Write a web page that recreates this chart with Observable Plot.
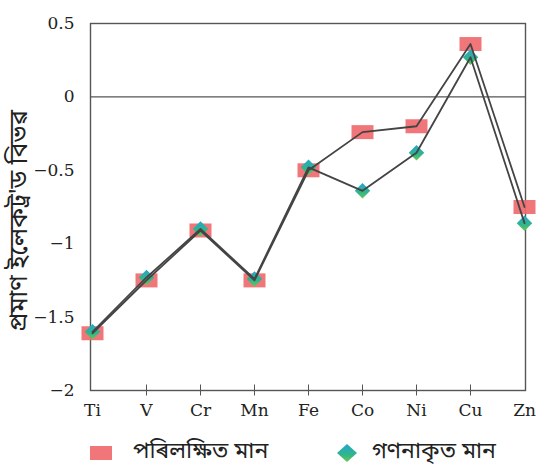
<!DOCTYPE html>
<html>
<head>
<meta charset="utf-8">
<script src="https://cdn.jsdelivr.net/npm/d3@7"></script>
<script src="https://cdn.jsdelivr.net/npm/@observablehq/plot@0.6"></script>
<style>
  body { margin: 0; background: #fff; }
  #chart { width: 543px; }
</style>
</head>
<body>
<div id="chart"></div>
<script>
const elements = ["Ti", "V", "Cr", "Mn", "Fe", "Co", "Ni", "Cu", "Zn"];
const observed = [-1.61, -1.25, -0.91, -1.25, -0.50, -0.24, -0.20, 0.36, -0.75];
const calculated = [-1.60, -1.23, -0.90, -1.24, -0.48, -0.64, -0.38, 0.27, -0.86];
const yTicks = [0.5, 0, -0.5, -1, -1.5, -2];
const yLabel = "প্ৰমাণ ইলেকট্ৰ'ড বিভৱ";
const seriesNames = ["পৰিলক্ষিত মান", "গণনাকৃত মান"];

const obsData = elements.map((e, i) => ({el: e, v: observed[i]}));
const calcData = elements.map((e, i) => ({el: e, v: calculated[i]}));

const rectSymbol = { draw(ctx) { ctx.rect(-11, -7, 22, 14); } };
const bengali = "'Noto Sans Bengali', 'Noto Serif Bengali', 'Lohit Bengali', 'Noto Sans', sans-serif";

const svg = Plot.plot({
  width: 543, height: 425,
  marginLeft: 90, marginRight: 18, marginTop: 23, marginBottom: 35,
  x: {type: "point", domain: elements, padding: 0},
  y: {domain: [-2, 0.5]},
  style: {fontFamily: "'DejaVu Serif', serif", fontSize: "17px", color: "#222", background: "#fff"},
  marks: [
    Plot.frame({stroke: "#555", strokeWidth: 1.4}),
    Plot.ruleY([0], {stroke: "#555", strokeWidth: 1.4}),
    Plot.axisY({ticks: yTicks, tickSize: 0, tickPadding: 16, label: null, tickFormat: d3.format("~g")}),
    Plot.axisX({ticks: elements.slice(1, -1), tickSize: 11, dy: -5.5, tickFormat: () => "", label: null, stroke: "#555"}),
    Plot.axisX({tickSize: 0, tickPadding: 13, label: null}),
    Plot.dot(obsData, {x: "el", y: "v", symbol: rectSymbol, r: 5, fill: "#ef6a6e", fillOpacity: 0.92, stroke: "none"}),
    Plot.dot(calcData, {x: "el", y: "v", symbol: "diamond2", r: 7, fill: "url(#diamGrad)", stroke: "none"}),
    Plot.line(obsData, {x: "el", y: "v", stroke: "#444", strokeWidth: 1.8}),
    Plot.line(calcData, {x: "el", y: "v", stroke: "#444", strokeWidth: 1.8}),
    Plot.text([yLabel], {frameAnchor: "left", textAnchor: "middle", rotate: -90, dx: -72, dy: 14, fontSize: 25, fontFamily: bengali, fill: "#222"})
  ]
});

const defs = d3.select(svg).insert("defs", ":first-child");
const g = defs.append("linearGradient").attr("id", "diamGrad").attr("x1", 0).attr("y1", 0).attr("x2", 0).attr("y2", 1);
g.append("stop").attr("offset", "0%").attr("stop-color", "#22a8cc");
g.append("stop").attr("offset", "60%").attr("stop-color", "#30b58c");
g.append("stop").attr("offset", "100%").attr("stop-color", "#6cc84e");

document.getElementById("chart").appendChild(svg);

// Legend
const leg = d3.select("#chart").append("svg").attr("width", 543).attr("height", 43).style("display", "block");
const ldefs = leg.append("defs");
const lg = ldefs.append("linearGradient").attr("id", "diamGrad2").attr("x1", 0).attr("y1", 0).attr("x2", 0).attr("y2", 1);
lg.append("stop").attr("offset", "0%").attr("stop-color", "#22a8cc");
lg.append("stop").attr("offset", "60%").attr("stop-color", "#30b58c");
lg.append("stop").attr("offset", "100%").attr("stop-color", "#6cc84e");
leg.append("rect").attr("x", 90).attr("y", 21).attr("width", 22).attr("height", 14).attr("fill", "#ef6a6e").attr("fill-opacity", 0.92);
leg.append("text").attr("x", 133).attr("y", 33).text(seriesNames[0]).style("font-family", bengali).style("font-size", "23px").attr("fill", "#222");
leg.append("path").attr("d", "M347,19 L357,28 L347,37 L337,28 Z").attr("fill", "url(#diamGrad2)");
leg.append("text").attr("x", 372).attr("y", 33).text(seriesNames[1]).style("font-family", bengali).style("font-size", "23px").attr("fill", "#222");
</script>
</body>
</html>
